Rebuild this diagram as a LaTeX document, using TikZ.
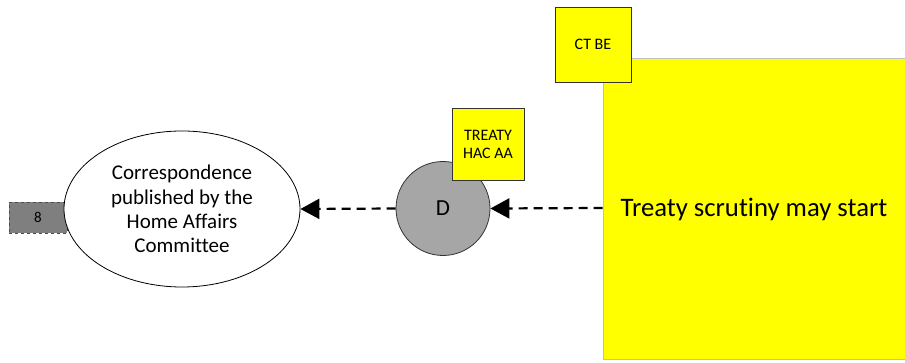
\documentclass[tikz,border=0pt]{standalone}
\usepackage{fontspec}
\setmainfont[Ligatures={NoCommon}]{Carlito}
\usetikzlibrary{arrows.meta,shapes.geometric}
\definecolor{ylw}{HTML}{FFFF00}
\definecolor{dgray}{HTML}{A6A6A6}
\definecolor{bgray}{HTML}{7F7F7F}
\tikzset{
  tag/.style={draw=black!80, fill=ylw, line width=0.8pt, inner sep=0pt, align=center, font=\fontsize{16}{18}\selectfont},
  flow/.style={line width=2.2pt, dash pattern=on 9pt off 6pt, -{Triangle[length=19pt,width=20pt]}, shorten >=0pt}
}
\begin{document}
\begin{tikzpicture}[x=1pt,y=-1pt]
\useasboundingbox (0,0) rectangle (905,363);
% box 8
\node[draw=black!70, dashed, line width=0.5pt, fill=bgray, minimum width=58pt, minimum height=31pt, inner sep=0pt, font=\fontsize{15}{17}\selectfont] (eight) at (38,217.5) {8};
% ellipse
\node[ellipse, draw=black, line width=0.8pt, fill=white, minimum width=236pt, minimum height=156pt, inner sep=0pt, align=center, font=\fontsize{21}{24.4}\selectfont] (corr) at (182,209) {Correspondence\\published by the\\Home Affairs\\Committee};
% big yellow
\node[draw=black!25, fill=ylw, line width=0.8pt, minimum width=302pt, minimum height=301pt, inner sep=0pt, font=\fontsize{26.7}{30}\selectfont] (treaty) at (754,209) {Treaty scrutiny may start};
% CT BE
\node[tag, minimum width=76pt, minimum height=75pt] (ctbe) at (593,44.5) {CT BE};
% circle D
\node[circle, draw=black!80, fill=dgray, line width=0.8pt, minimum size=94pt, inner sep=0pt, font=\fontsize{23}{26}\selectfont] (d) at (443,208.5) {D};
% TREATY HAC AA
\node[tag, minimum width=72pt, minimum height=72pt] (hac) at (488,144) {TREATY\\HAC AA};
% connectors
\coordinate (tin) at (treaty.west |- 0,208);
\draw[flow] (tin) -- (d.east);
\draw[flow] (d.west) -- (corr.east);
\end{tikzpicture}
\end{document}
